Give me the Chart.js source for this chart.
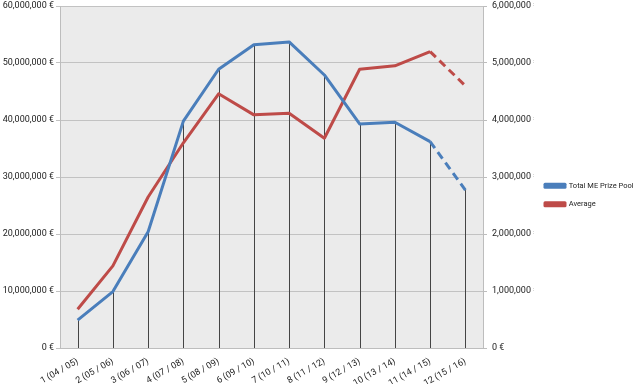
<!DOCTYPE html>
<html>
<head>
<meta charset="utf-8">
<script src="https://cdn.jsdelivr.net/npm/chart.js@4"></script>
<style>
  html, body { margin: 0; padding: 0; background: #fff; }
  #wrap { width: 638px; height: 384px; }
</style>
</head>
<body>
<div id="wrap"><canvas id="c" width="638" height="384"></canvas></div>
<script>
// ─── Data ─────────────────────────────────────────────────────────────────────

const seasons = [
  '1 (04 / 05)', '2 (05 / 06)', '3 (06 / 07)', '4 (07 / 08)', '5 (08 / 09)', '6 (09 / 10)',
  '7 (10 / 11)', '8 (11 / 12)', '9 (12 / 13)', '10 (13 / 14)', '11 (14 / 15)', '12 (15 / 16)',
];
const prizePool = [
  4900000, 9900000, 20400000, 39800000, 48900000, 53200000,
  53700000, 47900000, 39300000, 39600000, 36200000, 27700000,
];
const average = [
  680000, 1440000, 2650000, 3600000, 4460000, 4090000,
  4120000, 3680000, 4890000, 4950000, 5200000, 4600000,
];
const leftTicks  = [0, 10000000, 20000000, 30000000, 40000000, 50000000, 60000000];
const rightTicks = [0, 1000000, 2000000, 3000000, 4000000, 5000000, 6000000];

const BLUE = '#4A7EBB';
const RED  = '#BE4B48';
const FONT   = { family: 'Roboto, Lato, sans-serif', size: 9 };
const LEGEND = { family: 'Roboto, Lato, sans-serif', size: 7.5 };

// last segment (forecast) is dashed
const dashLast = ctx => ctx.p0DataIndex === seasons.length - 2 ? [8, 5] : undefined;
const euro = v => Number(v).toLocaleString('en-US') + ' €';

// ─── Plugins ──────────────────────────────────────────────────────────────────

const plotBg = {
  id: 'plotBg',
  beforeDraw(chart) {
    const { ctx, chartArea: a } = chart;
    ctx.save();
    ctx.fillStyle = '#EBEBEB';
    ctx.fillRect(a.left, a.top, a.right - a.left, a.bottom - a.top);
    ctx.restore();
  },
};

// drop lines from the primary series down to the axis
const dropLines = {
  id: 'dropLines',
  beforeDatasetsDraw(chart) {
    const { ctx, scales } = chart;
    ctx.save();
    ctx.strokeStyle = '#444';
    ctx.lineWidth = 1;
    prizePool.forEach((v, i) => {
      const x = Math.round(scales.x.getPixelForValue(i)) + 0.5;
      ctx.beginPath();
      ctx.moveTo(x, scales.y.getPixelForValue(v));
      ctx.lineTo(x, scales.y.getPixelForValue(0));
      ctx.stroke();
    });
    ctx.restore();
  },
};

const fitY = w => s => { s.width = w; s.paddingTop = 0; s.paddingBottom = 0; };

// ─── Chart ────────────────────────────────────────────────────────────────────

new Chart(document.getElementById('c'), {
  type: 'line',
  data: {
    labels: seasons,
    datasets: [
      {
        label: 'Total ME Prize Pool',
        data: prizePool,
        yAxisID: 'y',
        borderColor: BLUE, backgroundColor: BLUE,
        borderWidth: 3, pointRadius: 0, tension: 0,
        borderJoinStyle: 'round',
        segment: { borderDash: dashLast },
      },
      {
        label: 'Average',
        data: average,
        yAxisID: 'y2',
        borderColor: RED, backgroundColor: RED,
        borderWidth: 3, pointRadius: 0, tension: 0,
        borderJoinStyle: 'round',
        segment: { borderDash: dashLast },
      },
    ],
  },
  options: {
    responsive: false,
    animation: false,
    layout: { padding: { top: 6, left: 0, right: 0, bottom: 0 } },
    scales: {
      x: {
        offset: true,
        afterFit: s => { s.height = 36; s.paddingLeft = 0; s.paddingRight = 0; },
        grid: { display: false, drawTicks: false },
        border: { color: '#BDBDBD' },
        ticks: { color: '#222', font: FONT, minRotation: 30, maxRotation: 30, padding: 8, autoSkip: false },
      },
      y: {
        position: 'left',
        min: 0, max: 60000000,
        afterBuildTicks: s => { s.ticks = leftTicks.map(v => ({ value: v })); },
        afterFit: fitY(60),
        grid: { color: '#C2C2C2', tickLength: 4, tickColor: '#C2C2C2' },
        border: { color: '#BDBDBD' },
        ticks: { color: '#222', font: FONT, padding: 2, callback: euro },
      },
      y2: {
        position: 'right',
        min: 0, max: 6000000,
        afterBuildTicks: s => { s.ticks = rightTicks.map(v => ({ value: v })); },
        afterFit: fitY(51),
        grid: { drawOnChartArea: false, tickLength: 4, tickColor: '#BDBDBD' },
        border: { color: '#BDBDBD' },
        ticks: { color: '#222', font: FONT, padding: 5, callback: euro },
      },
    },
    plugins: {
      legend: {
        position: 'right',
        maxWidth: 104,
        labels: { color: '#222', font: LEGEND, boxWidth: 20, boxHeight: 3, padding: 11 },
      },
      tooltip: { enabled: false },
    },
  },
  plugins: [plotBg, dropLines],
});
</script>
</body>
</html>
